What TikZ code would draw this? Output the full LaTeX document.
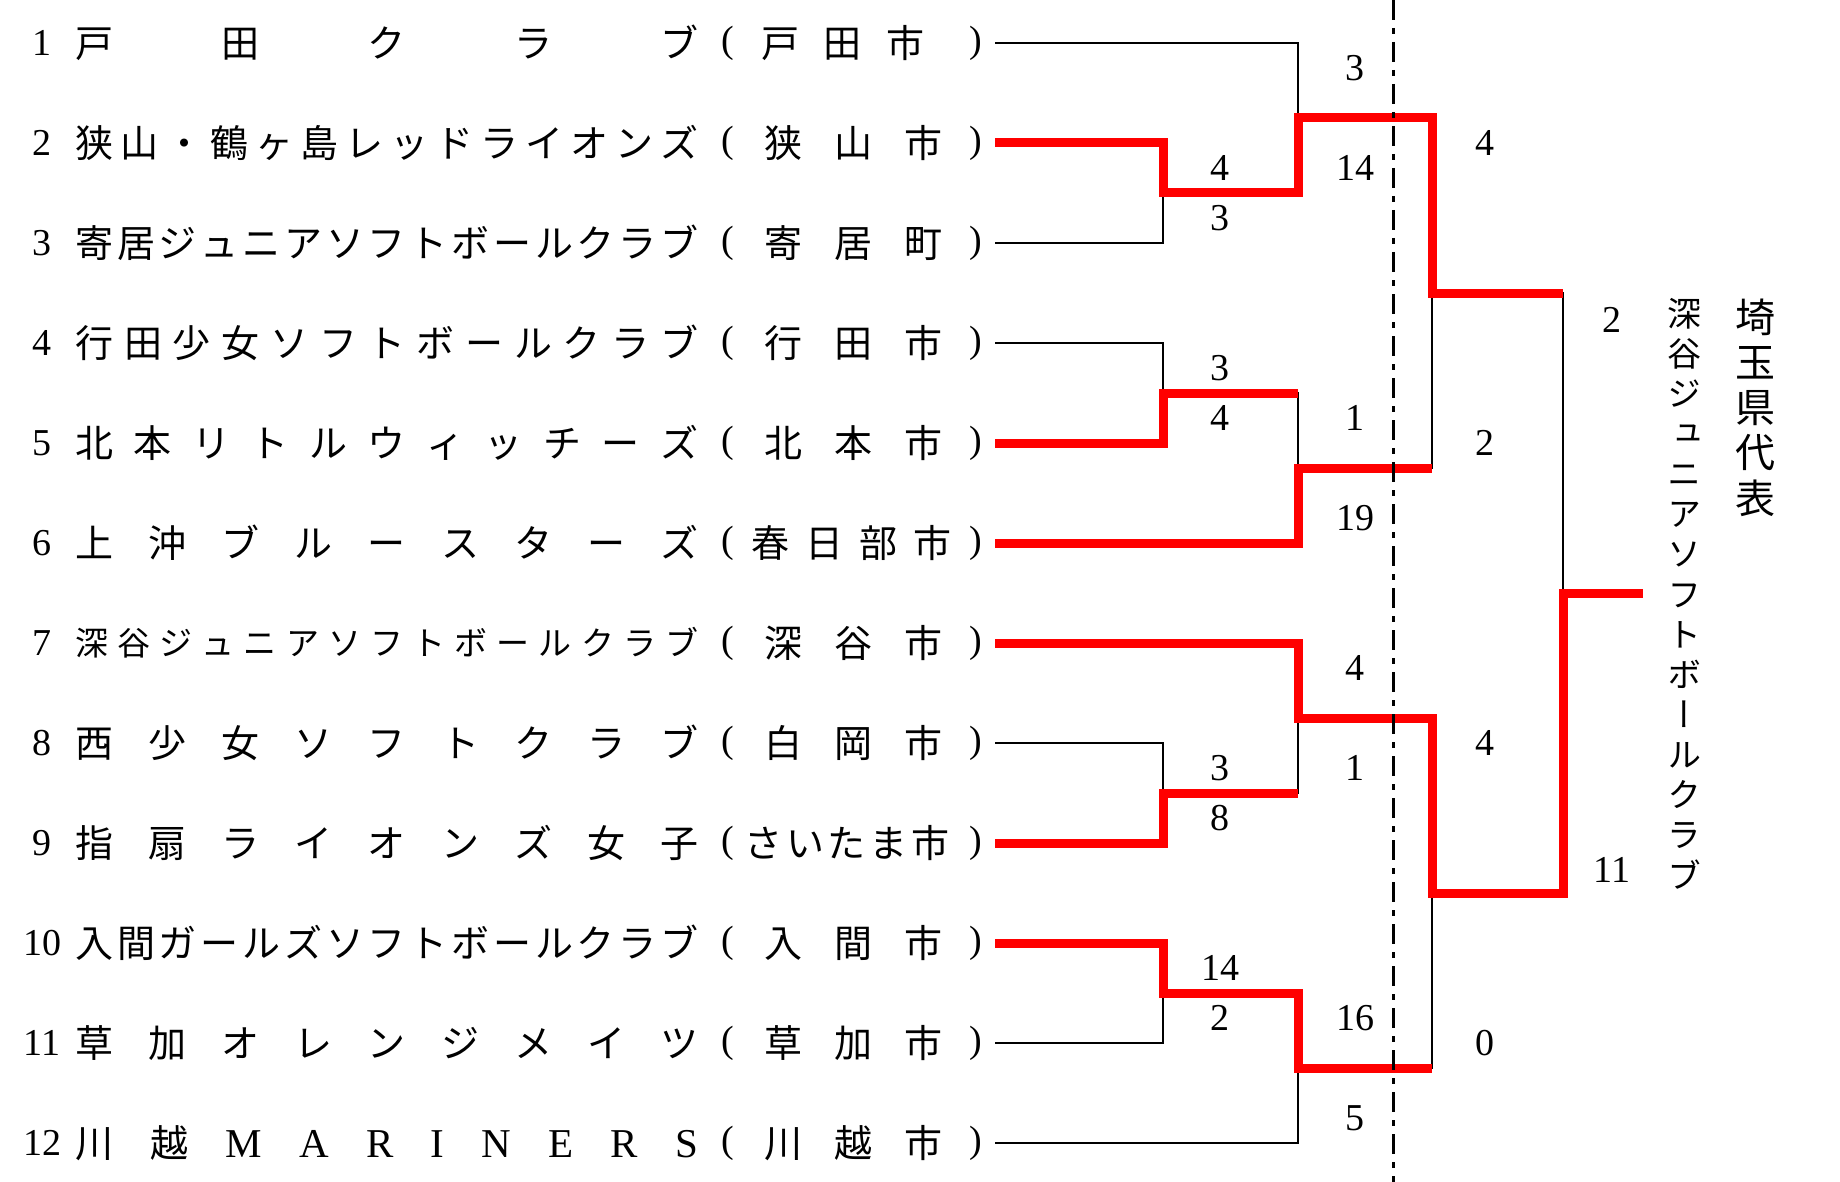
\documentclass[tikz,border=0pt]{standalone}
\usepackage{fontspec}
\setmainfont{Liberation Serif}
\newfontfamily\jp{Noto Sans CJK JP}
\newfontfamily\jpv[RawFeature=+vert]{Noto Sans CJK JP}
\newfontfamily\lat{Liberation Serif}
\definecolor{winred}{RGB}{255,0,0}
\ExplSyntaxOn
\NewDocumentCommand\spreadbox{mm}
  { \makebox[#1][s]{ \tl_map_inline:nn {#2} { {##1} \hfill } \unskip } }
\ExplSyntaxOff
\newcommand\LL[1]{{\lat\fontsize{20.5pt}{22pt}\selectfont #1}}
\tikzset{
  blk/.style={line width=1.4pt, black, line join=miter},
  redp/.style={line width=4.5pt, winred, line join=miter},
  dashline/.style={line width=1.5pt, black, dash pattern=on 10pt off 4pt on 3pt off 4pt},
  num/.style={inner sep=0, font=\fontsize{19pt}{20pt}\selectfont},
  score/.style={inner sep=0, font=\fontsize{19pt}{20pt}\selectfont},
  paren/.style={inner sep=0, font=\fontsize{19pt}{20pt}\selectfont},
  namebox/.style={anchor=west, inner sep=0, font=\jp\fontsize{19pt}{20pt}\selectfont,
    text height=16.7pt, text depth=2.3pt},
  smallname/.style={font=\jp\fontsize{16.5pt}{18pt}\selectfont, text height=14.5pt, text depth=2pt},
  vchar/.style={inner sep=0, font=\jpv\fontsize{17pt}{20pt}\selectfont, text height=15pt, text depth=2pt},
  hchar/.style={inner sep=0, font=\jp\fontsize{20pt}{22pt}\selectfont, text height=17.6pt, text depth=2.4pt}
}
% #1 index, #2 extra name style, #3 name, #4 city left (px), #5 city width, #6 city
\newcommand\teamrow[6]{%
  \node[num] (no#1) at (42,{43+100*(#1-1)}) {#1};
  \node[namebox,#2] (nm#1) at (75,{43+100*(#1-1)}) {\spreadbox{311.5pt}{#3}};
  \node[paren] (lp#1) at (728,{43+100*(#1-1)}) {(};
  \node[namebox] (ct#1) at (#4,{43+100*(#1-1)}) {\spreadbox{#5}{#6}};
  \node[paren] (rp#1) at (976,{43+100*(#1-1)}) {)};
  \coordinate (s#1) at (995,{43+100*(#1-1)});
}
\begin{document}
\begin{tikzpicture}[x=0.5pt,y=-0.5pt]
\useasboundingbox (0,0) rectangle (1840,1182);
\fill[white] (0,0) rectangle (1840,1182);

% team rows
\teamrow{1}{}{戸田クラブ}{761}{81.5pt}{戸田市}
\teamrow{2}{}{狭山・鶴ヶ島レッドライオンズ}{764}{89pt}{狭山市}
\teamrow{3}{}{寄居ジュニアソフトボールクラブ}{764}{89pt}{寄居町}
\teamrow{4}{}{行田少女ソフトボールクラブ}{764}{89pt}{行田市}
\teamrow{5}{}{北本リトルウィッチーズ}{764}{89pt}{北本市}
\teamrow{6}{}{上沖ブルースターズ}{751}{100pt}{春日部市}
\teamrow{7}{smallname}{深谷ジュニアソフトボールクラブ}{764}{89pt}{深谷市}
\teamrow{8}{}{西少女ソフトクラブ}{764}{89pt}{白岡市}
\teamrow{9}{}{指扇ライオンズ女子}{744}{102.5pt}{さいたま市}
\teamrow{10}{}{入間ガールズソフトボールクラブ}{764}{89pt}{入間市}
\teamrow{11}{}{草加オレンジメイツ}{764}{89pt}{草加市}
\teamrow{12}{}{川越{\LL{M}}{\LL{A}}{\LL{R}}{\LL{I}}{\LL{N}}{\LL{E}}{\LL{R}}{\LL{S}}}{764}{89pt}{川越市}

% junctions
\coordinate (A) at (1163,193);
\coordinate (C) at (1163,393);
\coordinate (F) at (1163,793);
\coordinate (H) at (1163,993);
\coordinate (B) at (1298,118);
\coordinate (D) at (1298,468);
\coordinate (G) at (1298,718);
\coordinate (I) at (1298,1068);
\coordinate (E) at (1432,293.5);
\coordinate (J) at (1432,893);
\coordinate (K) at (1563,593);
\coordinate (W) at (1643,593);

% black skeleton
\draw[blk] (s1) -| (B);
\draw[blk] (s2) -| (A);
\draw[blk] (s3) -| (A);
\draw[blk] (s4) -| (C);
\draw[blk] (s5) -| (C);
\draw[blk] (s6) -| (D);
\draw[blk] (s7) -| (G);
\draw[blk] (s8) -| (F);
\draw[blk] (s9) -| (F);
\draw[blk] (s10) -| (H);
\draw[blk] (s11) -| (H);
\draw[blk] (s12) -| (I);
\draw[blk] (A) -| (B);
\draw[blk] (C) -| (D);
\draw[blk] (F) -| (G);
\draw[blk] (H) -| (I);
\draw[blk] (B) -| (E);
\draw[blk] (D) -| (E);
\draw[blk] (G) -| (J);
\draw[blk] (I) -| (J);
\draw[blk] (E) -| (K);
\draw[blk] (J) -| (K);
\draw[blk] (K) -- (W);

% winners' paths
\draw[redp] (s2) -| (A) -| (B) -| (E) -- (E -| K);
\draw[redp] (s5) -| (C) -- (C -| D);
\draw[redp] (s6) -| (D) -- (D -| E);
\draw[redp] (s7) -| (G) -| (J) -| (K) -- (W);
\draw[redp] (s9) -| (F) -- (F -| G);
\draw[redp] (s10) -| (H) -| (I) -- (I -| J);

% scores
\node[score] (sa1) at (1220,168) {4};
\node[score] (sa2) at (1220,218) {3};
\node[score] (sc1) at (1220,368) {3};
\node[score] (sc2) at (1220,418) {4};
\node[score] (sf1) at (1220,768) {3};
\node[score] (sf2) at (1220,818) {8};
\node[score] (sh1) at (1220,968) {14};
\node[score] (sh2) at (1220,1018) {2};
\node[score] (sb1) at (1355,68) {3};
\node[score] (sb2) at (1355,168) {14};
\node[score] (sd1) at (1355,418) {1};
\node[score] (sd2) at (1355,518) {19};
\node[score] (sg1) at (1355,668) {4};
\node[score] (sg2) at (1355,768) {1};
\node[score] (si1) at (1355,1018) {16};
\node[score] (si2) at (1355,1118) {5};
\node[score] (se1) at (1485,143) {4};
\node[score] (se2) at (1485,443) {2};
\node[score] (sj1) at (1485,743) {4};
\node[score] (sj2) at (1485,1043) {0};
\node[score] (sk1) at (1612,320) {2};
\node[score] (sk2) at (1612,870) {11};

% dashed divider
\coordinate (dtop) at (1393,0);
\coordinate (dbot) at (1393,1182);
\draw[dashline] (dtop) -- (dbot);

% champion (vertical text)
\foreach \c [count=\k from 0] in {深,谷,ジ,ュ,ニ,ア,ソ,フ,ト,ボ,ー,ル,ク,ラ,ブ}
  \node[vchar] (v\k) at (1684,{313+40.15*\k}) {\c};
\foreach \c [count=\k from 0] in {埼,玉,県,代,表}
  \node[hchar] (h\k) at (1755,{317+45.25*\k}) {\c};
\end{tikzpicture}
\end{document}
